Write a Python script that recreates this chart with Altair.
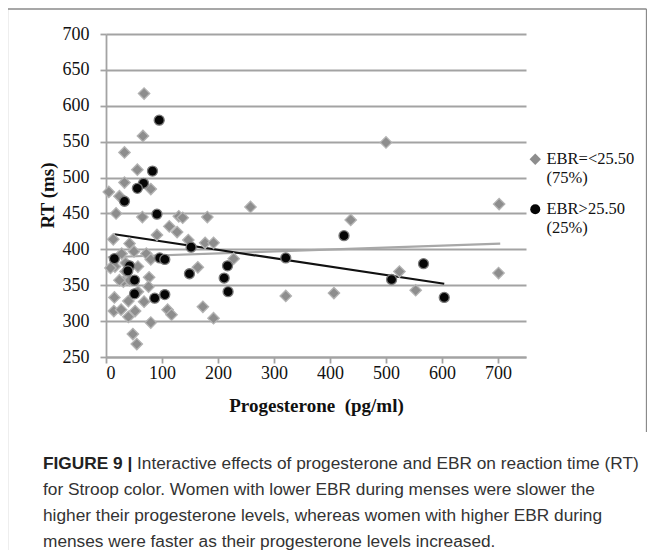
import altair as alt
import pandas as pd

# ---- data ----
progesterone_low = [5, 18, 33, 33, 24, 13, 42, 66, 68, 56, 80, 65, 91, 113, 127, 130, 137, 181,
                    147, 177, 192, 164, 228, 258, 173, 192, 110, 117, 80, 48, 55, 40, 14, 27, 52,
                    40, 68, 15, 77, 76, 28, 50, 72, 80, 57, 35, 16, 31, 42, 57, 321, 407, 437, 500,
                    524, 553, 702, 701, 35, 8, 24]
rt_low = [480, 450, 535, 493, 474, 414, 408, 558, 617, 511, 484, 445, 420, 432, 424, 446, 444, 445,
          413, 409, 409, 375, 387, 459, 320, 304, 316, 309, 298, 282, 268, 306, 314, 316, 314,
          328, 327, 333, 361, 348, 394, 397, 394, 386, 376, 369, 376, 355, 357, 341, 335, 339, 441, 549,
          369, 343, 463, 367, 381, 374, 357]

progesterone_high = [95, 83, 67, 56, 33, 91, 15, 96, 105, 42, 39, 51, 51, 87, 105, 149, 152, 217,
                     211, 218, 321, 425, 510, 567, 604]
rt_high = [580, 509, 492, 485, 467, 449, 387, 388, 386, 377, 370, 357, 338, 332, 337, 366, 403, 377,
           360, 341, 388, 419, 358, 380, 333]

# trend lines (end points)
trend_low_x = [3, 704]
trend_low_y = [389, 408]
trend_high_x = [15, 604]
trend_high_y = [421, 352]

LOW = "EBR=<25.50\n(75%)"
HIGH = "EBR>25.50\n(25%)"
groups = [LOW, HIGH]

x_ticks = [0, 100, 200, 300, 400, 500, 600, 700]
y_ticks = [250, 300, 350, 400, 450, 500, 550, 600, 650, 700]

x_title = "Progesterone\u00a0 (pg/ml)"
y_title = "RT (ms)"

caption_bold = "FIGURE 9 |"
caption_first = "Interactive effects of progesterone and EBR on reaction time (RT)"
caption_rest = [
    "for Stroop color. Women with lower EBR during menses were slower the",
    "higher their progesterone levels, whereas women with higher EBR during",
    "menses were faster as their progesterone levels increased.",
]

# ---- tables ----
points = pd.DataFrame({
    "x": progesterone_low + progesterone_high,
    "y": rt_low + rt_high,
    "group": [LOW] * len(progesterone_low) + [HIGH] * len(progesterone_high),
})
trend_low = pd.DataFrame({"x": trend_low_x, "y": trend_low_y})
trend_high = pd.DataFrame({"x": trend_high_x, "y": trend_high_y})
one = pd.DataFrame({"k": [0]})

SERIF = "Liberation Serif"
SANS = "Liberation Sans"
GRID = "#a3a3a3"

xscale = alt.Scale(domain=[0, 750], nice=False, zero=False)
yscale = alt.Scale(domain=[250, 700], nice=False, zero=False)

xaxis = alt.Axis(values=x_ticks, title=x_title, grid=False, labelFont=SERIF, labelFontSize=18,
                 labelColor="#111", labelPadding=1, tickSize=6, tickColor=GRID, tickWidth=1.8,
                 domainColor=GRID, domainWidth=1.8, titleFont=SERIF, titleFontSize=19,
                 titleFontWeight="bold", titleColor="#111", titleBaseline="alphabetic", titleY=54,
                 labelOverlap=False)
yaxis = alt.Axis(values=y_ticks, title=y_title, grid=True, gridColor=GRID, gridWidth=1.8,
                 labelFont=SERIF, labelFontSize=18, labelColor="#111", labelPadding=11, tickSize=6,
                 tickColor=GRID, tickWidth=1.8, domainColor=GRID, domainWidth=1.8,
                 titleFont=SERIF, titleFontSize=19, titleFontWeight="bold", titleColor="#111",
                 titleX=-59, titleY=161, titleBaseline="middle", titleAngle=-90,
                 labelOverlap=False)

X = alt.X("x:Q", scale=xscale, axis=xaxis)
Y = alt.Y("y:Q", scale=yscale, axis=yaxis)

# figure frame (top, left, right edges)
FR = "#8a8a8a"
frame_top = alt.Chart(one).mark_rule(color=FR, strokeWidth=1.3).encode(
    x=alt.value(-98.5), x2=alt.value(540.5), y=alt.value(-25))
frame_left = alt.Chart(one).mark_rule(color=FR, strokeWidth=1.3).encode(
    x=alt.value(-98.5), y=alt.value(-25), y2=alt.value(530))
frame_right = alt.Chart(one).mark_rule(color=FR, strokeWidth=1.3).encode(
    x=alt.value(540.5), y=alt.value(-25), y2=alt.value(398))

line_low = alt.Chart(trend_low).mark_line(color="#a8a8a8", strokeWidth=2.2).encode(x=X, y=Y)
line_high = alt.Chart(trend_high).mark_line(color="#111111", strokeWidth=2.2).encode(x=X, y=Y)

pts = alt.Chart(points).mark_point(filled=True, opacity=1, strokeWidth=1.3).encode(
    x=X,
    y=Y,
    color=alt.Color("group:N", scale=alt.Scale(domain=groups, range=["#8d8d8d", "#050505"]),
                    legend=alt.Legend(orient="none", legendX=421, legendY=117, title=None,
                                      labelExpr="split(datum.label, '\\n')",
                                      labelFont=SERIF, labelFontSize=16.5, labelColor="#111",
                                      symbolSize=55, rowPadding=14, labelOffset=3, padding=0,
                                      symbolStrokeWidth=0)),
    shape=alt.Shape("group:N", scale=alt.Scale(domain=groups, range=["diamond", "circle"])),
    size=alt.Size("group:N", scale=alt.Scale(domain=groups, range=[130, 100]), legend=None),
    stroke=alt.Stroke("group:N", scale=alt.Scale(domain=groups, range=["#b3b3b3", "#7a7a7a"]),
                      legend=None),
    order=alt.Order("group:N", sort="ascending"),
)

CAP = 17.3
cap_bold = alt.Chart(pd.DataFrame({"t": [caption_bold]})).mark_text(
    align="left", baseline="middle", font=SANS, fontSize=CAP, fontWeight="bold", color="#222"
).encode(text="t:N", x=alt.value(-63), y=alt.value(429.5))
cap_first = alt.Chart(pd.DataFrame({"t": [caption_first]})).mark_text(
    align="left", baseline="middle", font=SANS, fontSize=CAP, color="#333"
).encode(text="t:N", x=alt.value(31), y=alt.value(429.5))
cap_layers = [
    alt.Chart(pd.DataFrame({"t": [line]})).mark_text(
        align="left", baseline="middle", font=SANS, fontSize=CAP, color="#333"
    ).encode(text="t:N", x=alt.value(-63), y=alt.value(455.5 + 26 * i))
    for i, line in enumerate(caption_rest)
]

chart = alt.layer(frame_top, frame_left, frame_right, line_low, line_high, pts,
                  cap_bold, cap_first, *cap_layers).properties(
    width=420, height=323,
    padding={"left": 98, "top": 26, "right": 121, "bottom": 193},
    autosize=alt.AutoSizeParams(type="none"),
    background="white",
).configure_view(stroke=None)

chart.save("out.html", embed_options={"renderer": "svg", "actions": False})
